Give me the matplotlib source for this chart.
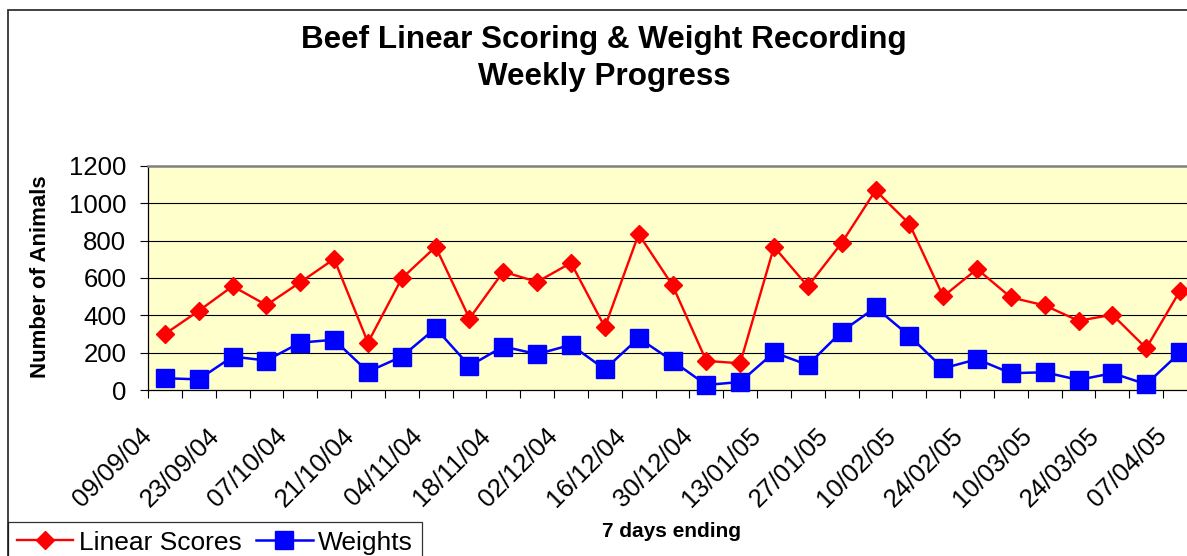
import numpy as np
import matplotlib
matplotlib.use("Agg")
import matplotlib.pyplot as plt
from matplotlib.patches import Rectangle

plt.rcParams['font.family'] = ['Liberation Sans', 'DejaVu Sans']

# week ending dates (every week), only every 2nd one is labelled
weeks = ['09/09/04', '16/09/04', '23/09/04', '30/09/04', '07/10/04', '14/10/04',
         '21/10/04', '28/10/04', '04/11/04', '11/11/04', '18/11/04', '25/11/04',
         '02/12/04', '09/12/04', '16/12/04', '23/12/04', '30/12/04', '06/01/05',
         '13/01/05', '20/01/05', '27/01/05', '03/02/05', '10/02/05', '17/02/05',
         '24/02/05', '03/03/05', '10/03/05', '17/03/05', '24/03/05', '31/03/05',
         '07/04/05']

linear_scores = [300, 424, 556, 455, 577, 702, 254, 598, 767, 383, 634, 579,
                 681, 337, 835, 561, 156, 143, 767, 555, 788, 1069, 890, 501,
                 648, 496, 453, 371, 403, 224, 532]
weights = [63, 57, 179, 158, 254, 269, 98, 179, 331, 129, 233, 192,
           242, 111, 278, 156, 27, 43, 201, 134, 313, 442, 290, 116,
           165, 90, 95, 54, 90, 31, 201]

W, H = 1187, 556
fig = plt.figure(figsize=(W / 100, H / 100), dpi=100)

# chart area border (runs off the right and bottom of the picture)
fig.add_artist(Rectangle((8 / W, -0.1), 1.2, 1.1 - 10 / H, transform=fig.transFigure,
                         fill=False, edgecolor='#333333', linewidth=1.3))

left, right, top, bottom = 148, 1197, 166, 390
ax = fig.add_axes([left / W, 1 - bottom / H, (right - left) / W, (bottom - top) / H])
ax.set_facecolor('#FFFFCC')

x = np.arange(len(weeks))
ax.plot(x, weights, color='#0000FF', lw=1.8, marker='s', ms=13.5,
        mec='#0000FF', mfc='#0000FF', clip_on=False, zorder=3, label='Weights')
ax.plot(x, linear_scores, color='#FF0000', lw=1.7, marker='D', ms=9.3,
        mec='#FF0000', mfc='#FF0000', clip_on=False, zorder=4, label='Linear Scores')

ax.set_xlim(-0.5, len(weeks) - 0.5)
ax.set_ylim(0, 1200)
ax.set_yticks(np.arange(0, 1201, 200))
for v in range(200, 1001, 200):
    ax.axhline(v, color='black', lw=0.8, zorder=1)

# category ticks sit between weeks; labels hang off the left edge of each labelled week
ax.set_xticks(x[::2] - 0.5)
ax.set_xticks(x[1::2] - 0.5, minor=True)
ax.set_xticklabels(weeks[::2], rotation=45, ha='right', va='center',
                   rotation_mode='anchor', fontsize=18.5)
ax.tick_params(axis='x', which='both', direction='out', length=5.5, width=0.8,
               pad=25)
ax.tick_params(axis='y', direction='out', length=5.5, width=0.8, pad=10,
               labelsize=18.5)

for s in ['left', 'bottom']:
    ax.spines[s].set_color('black')
    ax.spines[s].set_linewidth(0.9)
ax.spines['top'].set_color('#808080')
ax.spines['top'].set_linewidth(1.8)
ax.spines['right'].set_visible(False)

fig.text(604 / W, 1 - 48 / H, 'Beef Linear Scoring & Weight Recording',
         ha='center', va='baseline', fontsize=22.6, fontweight='bold')
fig.text(604 / W, 1 - 85 / H, 'Weekly Progress',
         ha='center', va='baseline', fontsize=22.6, fontweight='bold')
fig.text(41 / W, 1 - 277 / H, 'Number of Animals', rotation=90,
         ha='center', va='center', fontsize=16, fontweight='bold')
fig.text(672 / W, 1 - 537 / H, '7 days ending', ha='center', va='baseline',
         fontsize=15, fontweight='bold')

handles, labels = ax.get_legend_handles_labels()
leg = fig.legend(handles[::-1], labels[::-1], loc='upper left',
                 bbox_to_anchor=(8 / W, 1 - 522 / H), ncol=2, fontsize=19,
                 frameon=True, fancybox=False, borderaxespad=0, borderpad=0.33,
                 handlelength=2.15, handletextpad=0.2, columnspacing=0.55)
leg.get_frame().set_edgecolor('black')
leg.get_frame().set_linewidth(0.9)

fig.savefig('out.png', dpi=100)
